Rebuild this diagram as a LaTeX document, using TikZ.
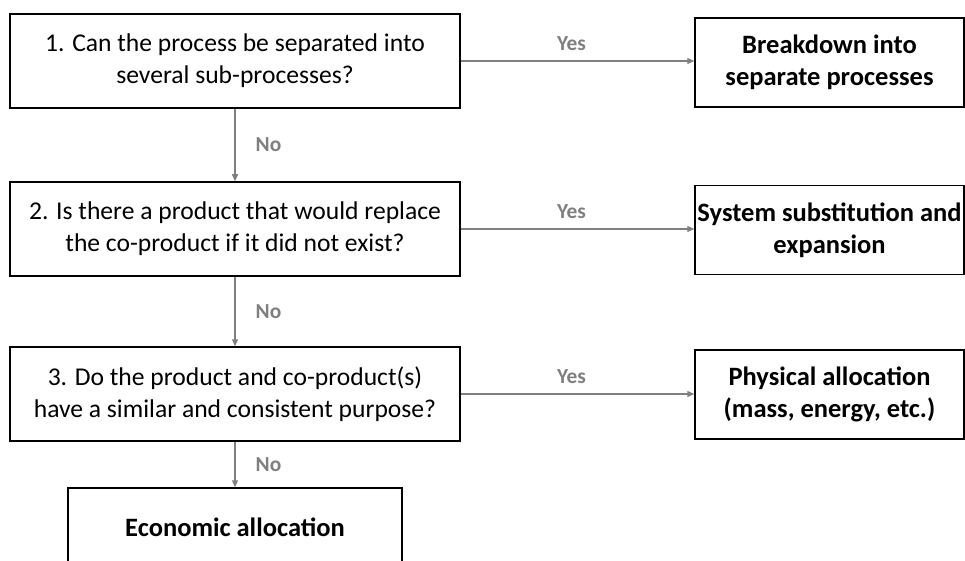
\documentclass[tikz,border=0pt]{standalone}
\usepackage{fontspec}
\setmainfont{Carlito}
\usetikzlibrary{arrows.meta}
\definecolor{linkgrey}{HTML}{7F7F7F}

\begin{document}
\begin{tikzpicture}[x=1pt, y=-1pt,
    question/.style={draw, line width=1.5pt, minimum width=450pt, minimum height=94pt, align=center, font=\fontsize{25.6}{32}\selectfont},
    answer/.style={draw, line width=1.5pt, minimum width=269pt, minimum height=89pt, inner sep=1pt, align=center, font=\fontsize{26.5}{32}\selectfont\bfseries},
    link/.style={draw=linkgrey, line width=1.3pt, -{Triangle[length=7pt, width=6pt]}},
    tag/.style={text=linkgrey, font=\fontsize{21.4}{25}\selectfont\bfseries, inner sep=0pt}]
\useasboundingbox (0,0) rectangle (965,561);

% Questions down the left side
\node[question] (q1) at (235,61) {1. Can the process be separated into\\several sub-processes?};
\node[question] (q2) at (235,229) {2. Is there a product that would replace\\the co-product if it did not exist?};
\node[question] (q3) at (235,394) {3. Do the product and co-product(s)\\have a similar and consistent purpose?};

% Outcomes on the right
\node[answer] (r1) at (829.5,62.5) {Breakdown into\\separate processes};
\node[answer] (r2) at (829.5,230) {System substitution and\\expansion};
\node[answer] (r3) at (829.5,394.5) {Physical allocation\\(mass, energy, etc.)};
\node[answer, minimum width=334pt, minimum height=78pt] (econ) at (235,527) {Economic allocation};

% Yes arrows
\foreach \q/\r in {q1/r1, q2/r2, q3/r3} {
    \draw[link] (\q.east) -- (\q.east -| \r.west) node[tag, midway, above=10pt, xshift=-6pt] {Yes};
}

% No arrows
\foreach \a/\b in {q1/q2, q2/q3, q3/econ} {
    \draw[link] (\a.south) -- (\b.north) node[tag, midway, right=20pt] {No};
}
\end{tikzpicture}
\end{document}
